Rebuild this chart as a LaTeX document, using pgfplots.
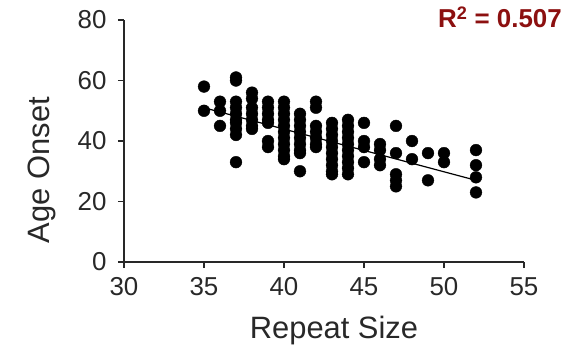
\documentclass[border=0pt]{standalone}
\usepackage{pgfplots}
\pgfplotsset{compat=1.18}
\usepackage{fontspec}
\setmainfont{Liberation Sans}
\definecolor{txtgray}{RGB}{40,40,40}
\definecolor{rsqred}{RGB}{140,16,16}

% age at onset against repeat size, one row per patient
\pgfplotstableread{
x y
35 58
35 50
36 53
36 50
36 45
37 61
37 60
37 53
37 51
37 49
37 47
37 46
37 44
37 42
37 33
38 56
38 54
38 51
38 49
38 47
38 45
38 44
39 53
39 51
39 49
39 47
39 46
39 40
39 38
40 53
40 51
40 49
40 47
40 45
40 43
40 41
40 39
40 37
40 35
40 34
41 49
41 47
41 45
41 43
41 41
41 39
41 37
41 36
41 30
42 53
42 51
42 45
42 43
42 41
42 39
42 38
43 46
43 44
43 42
43 40
43 38
43 36
43 34
43 32
43 30
43 29
44 47
44 45
44 43
44 41
44 39
44 37
44 35
44 33
44 31
44 29
45 46
45 40
45 38
45 33
46 39
46 37
46 34
46 32
47 45
47 36
47 29
47 27
47 25
48 40
48 34
49 36
49 27
50 36
50 33
52 37
52 32
52 28
52 23
}\onset

\begin{document}
\begin{tikzpicture}
\useasboundingbox (-124bp,-86bp) rectangle (446bp,262bp);
\begin{axis}[
  at={(0,0)}, anchor=south west,
  scale only axis, width=400bp, height=242bp,
  xmin=30, xmax=55, ymin=0, ymax=80,
  xtick={30,35,...,55}, ytick={0,20,...,80},
  axis lines*=left,
  axis line style={line width=1.3pt, txtgray},
  tick style={line width=1.3pt, txtgray},
  tick align=outside, major tick length=6bp,
  clip=false,
  /pgf/number format/assume math mode=true,
  tick label style={font=\fontsize{26}{30}\selectfont, text=txtgray},
  xticklabel style={yshift=-6bp},
  yticklabel style={xshift=-8bp},
  xlabel={Repeat Size}, ylabel={Age Onset},
  label style={font=\fontsize{31}{36}\selectfont, text=txtgray},
  xlabel style={at={(axis description cs:0.5,0)}, anchor=base, yshift=-76bp, xshift=10bp},
  ylabel style={at={(axis description cs:-0.185,0.38)}, anchor=base},
]
\addplot[only marks, mark=*, mark size=5.9bp, black] table {\onset};
\addplot[black, line width=1.2pt] coordinates {(35,51) (52,27)};
\end{axis}
\node[anchor=base east, text=rsqred, font=\fontsize{26}{30}\selectfont\bfseries, inner sep=0pt]
  at (438bp,234bp) {R\textsuperscript{2} = 0.507};
\end{tikzpicture}
\end{document}
